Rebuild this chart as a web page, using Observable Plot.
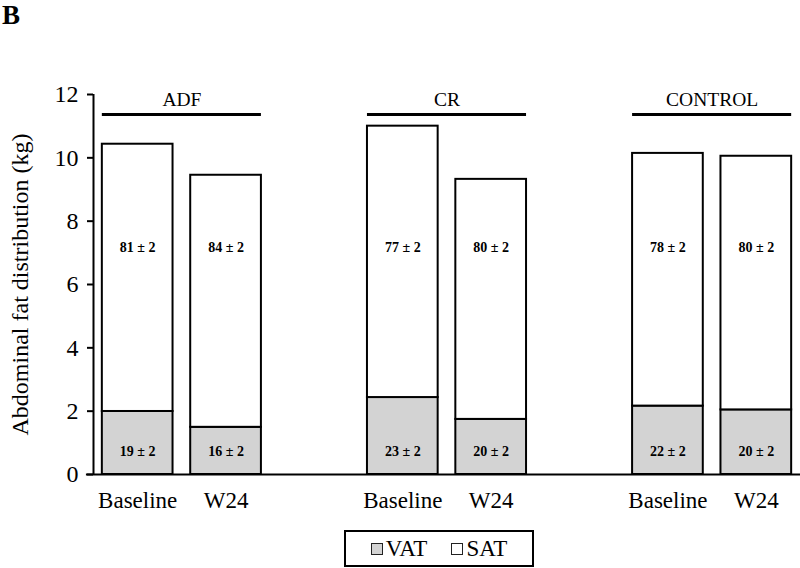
<!DOCTYPE html>
<html>
<head>
<meta charset="utf-8">
<script src="https://cdn.jsdelivr.net/npm/d3@7"></script>
<script src="https://cdn.jsdelivr.net/npm/@observablehq/plot@0.6"></script>
<style>
  body { margin: 0; background: white; font-family: "Liberation Serif", "Times New Roman", serif; }
  #panel { width: 800px; height: 30px; position: relative; }
  #panel span { position: absolute; left: 2px; top: 2px; font-weight: bold; font-size: 27px; line-height: 1; }
  #legend { margin-left: 344px; margin-top: 10px; width: 186px; height: 33px; border: 2px solid black;
            display: flex; align-items: center; justify-content: center; font-size: 23px; }
  .sw { display: inline-block; width: 10px; height: 10px; border: 1.5px solid #222; margin-right: 3px; }
  #chart svg text { font-family: "Liberation Serif", "Times New Roman", serif; }
</style>
</head>
<body>
<div id="panel"><span>B</span></div>
<div id="chart"></div>
<div id="legend">
  <span class="sw" style="background:#d3d3d3"></span><span>VAT</span>
  <span style="width:24px"></span>
  <span class="sw" style="background:white"></span><span>SAT</span>
</div>
<script>
const groups = ["ADF", "CR", "CONTROL"];
const periods = ["Baseline", "W24"];
// per bar, order: ADF Baseline, ADF W24, CR Baseline, CR W24, CONTROL Baseline, CONTROL W24
const totalFat = [10.43, 9.45, 11.0, 9.32, 10.14, 10.05];
const vatFat = [1.99, 1.49, 2.43, 1.74, 2.16, 2.04];
const vatPct = [19, 16, 23, 20, 22, 20];
const satPct = [81, 84, 77, 80, 78, 80];
const pctSE = [2, 2, 2, 2, 2, 2];
const yTicks = [0, 2, 4, 6, 8, 10, 12];
const types = ["VAT", "SAT"];
const typeColors = ["#d3d3d3", "#ffffff"];

const bars = [];
groups.forEach((g, gi) => periods.forEach((p, pi) => {
  const k = gi * 2 + pi;
  bars.push({group: g, period: p, pos: gi * 3 + pi, k});
}));
const rows = [];
bars.forEach(b => {
  rows.push({...b, type: "VAT", value: vatFat[b.k]});
  rows.push({...b, type: "SAT", value: totalFat[b.k] - vatFat[b.k]});
});
const groupRows = groups.map((g, gi) => ({group: g, start: gi * 3, end: gi * 3 + 1}));

const serif = "'Liberation Serif', 'Times New Roman', serif";
const half = 0.4;
const chart = Plot.plot({
  width: 800,
  height: 490,
  marginTop: 64,
  marginBottom: 46,
  marginLeft: 93,
  marginRight: 0,
  style: `font-family: ${serif}; color: black; background: white; overflow: visible;`,
  x: {domain: [-0.5, 7.5], axis: null},
  y: {domain: [0, 12], axis: null},
  color: {domain: types, range: typeColors},
  marks: [
    Plot.rectY(rows, {x1: d => d.pos - half, x2: d => d.pos + half, y: "value", fill: "type", stroke: "black", strokeWidth: 2}),
    Plot.text(bars, {x: "pos", y: 7.17, text: d => `${satPct[d.k]} ± ${pctSE[d.k]}`, fontFamily: serif, fontWeight: "bold", fontSize: 14, lineAnchor: "middle"}),
    Plot.text(bars, {x: "pos", y: 0.74, text: d => `${vatPct[d.k]} ± ${pctSE[d.k]}`, fontFamily: serif, fontWeight: "bold", fontSize: 14, lineAnchor: "middle"}),
    Plot.ruleY(groupRows, {x1: d => d.start - half, x2: d => d.end + half, y: 11.37, strokeWidth: 3}),
    Plot.text(groupRows, {x: d => (d.start + d.end) / 2, y: 11.63, text: "group", fontFamily: serif, fontSize: 19.5, lineAnchor: "bottom"}),
    Plot.text(bars, {x: "pos", y: 0, dy: 26, text: "period", fontFamily: serif, fontSize: 23, lineAnchor: "middle"}),
    Plot.axisY({ticks: yTicks, tickSize: 6, tickPadding: 9, fontSize: 24, fontFamily: serif, strokeWidth: 2,
      label: "Abdominal fat distribution (kg)", labelAnchor: "center", labelArrow: "none", labelOffset: 83}),
    Plot.ruleX([-0.5], {y1: 0, y2: 12, strokeWidth: 2}),
    Plot.ruleY([0], {x1: -0.58, x2: 7.5, strokeWidth: 2})
  ]
});
document.getElementById("chart").appendChild(chart);
</script>
</body>
</html>
